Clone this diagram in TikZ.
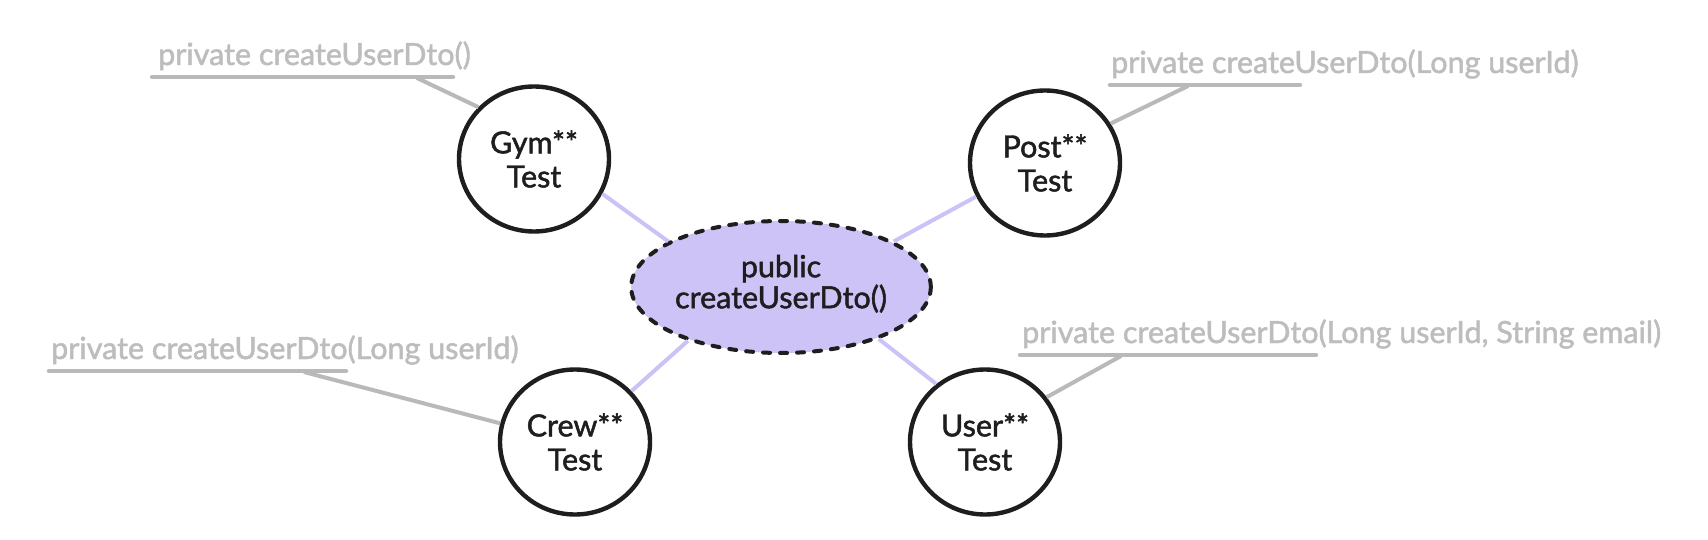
\documentclass[tikz,border=0pt]{standalone}
\usepackage{fontspec}
\setmainfont{Lato}[FakeBold=1.6]
\usetikzlibrary{shapes.geometric}
\definecolor{lblgray}{HTML}{BDBDBD}
\definecolor{linegray}{HTML}{B9B9B9}
\definecolor{purfill}{HTML}{CEC3F6}
\definecolor{purline}{HTML}{CDC2F7}
\definecolor{inkblack}{HTML}{1E1E1E}
\tikzset{
  testcircle/.style={ellipse, draw=inkblack, line width=4.4pt, fill=white, minimum width=150pt, minimum height=145pt, inner sep=0pt, align=center, font=\fontsize{30.5}{34}\selectfont, text=inkblack},
  centeroval/.style={ellipse, draw=inkblack, line width=4pt, line cap=round, dash pattern=on 7pt off 10pt, fill=purfill, minimum width=281pt, minimum height=132pt, inner sep=0pt, align=center, font=\fontsize{30.5}{31}\selectfont, text=inkblack, text depth=11pt},
  graylabel/.style={anchor=base west, inner sep=0pt, text=lblgray, font=\fontsize{30.5}{32}\selectfont},
  underline/.style={draw=linegray, line width=4.5pt, line cap=round},
  leader/.style={draw=linegray, line width=4pt},
  link/.style={draw=purline, line width=4pt}
}
\begin{document}
\begin{tikzpicture}[x=1pt,y=-1pt]
\useasboundingbox[fill=white] (0,0) rectangle (1708,540);
% nodes
\node[centeroval] (pub) at (781,287) {public\\createUserDto()};
\node[testcircle] (gym) at (534,159) {Gym**\\Test};
\node[testcircle] (post) at (1045,163) {Post**\\Test};
\node[testcircle] (crew) at (575,442) {Crew**\\Test};
\node[testcircle] (user) at (985,442) {User**\\Test};
% labels
\node[graylabel] (gyml) at (158,65) {private createUserDto()};
\node[graylabel] (postl) at (1111,73) {private createUserDto(Long userId)};
\node[graylabel] (crewl) at (51,359) {private createUserDto(Long userId)};
\node[graylabel] (userl) at (1022,343) {private createUserDto(Long userId, String email)};
% underline coordinates
\coordinate (gymu1) at (152,77); \coordinate (gymu2) at (453,77); \coordinate (gymlk) at (417,78);
\coordinate (postu1) at (1110,85); \coordinate (postu2) at (1300,85); \coordinate (postlk) at (1188,86);
\coordinate (crewu1) at (49,371); \coordinate (crewu2) at (346,371); \coordinate (crewlk) at (304,372);
\coordinate (useru1) at (1020,355); \coordinate (useru2) at (1316,355); \coordinate (userlk) at (1121,356);
\draw[underline] (gymu1) -- (gymu2);
\draw[underline] (postu1) -- (postu2);
\draw[underline] (crewu1) -- (crewu2);
\draw[underline] (useru1) -- (useru2);
\draw[leader] (gymlk) -- (gym.137);
\draw[leader] (postlk) -- (post.31);
\draw[leader] (crewlk) -- (crew.166);
\draw[leader] (userlk) -- (user.36);
\draw[link] (gym.-27) -- (pub.158);
\draw[link] (post.206) -- (pub.22);
\draw[link] (crew.42) -- (pub.210);
\draw[link] (user.130) -- (pub.332);
\end{tikzpicture}
\end{document}
